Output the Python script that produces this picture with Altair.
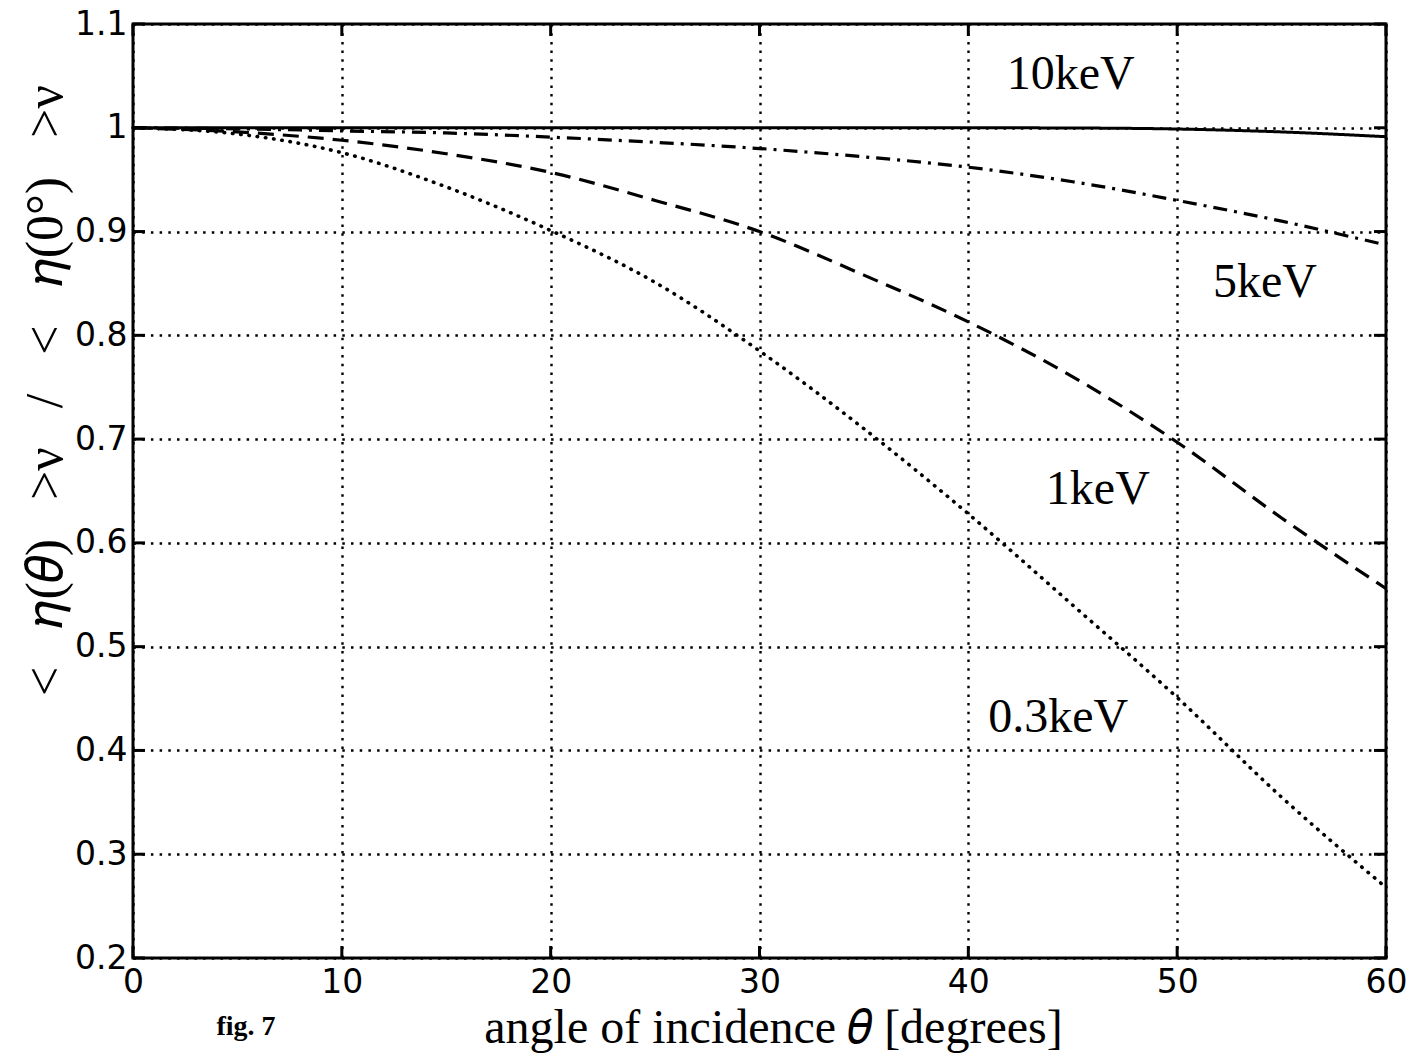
import altair as alt
import pandas as pd

theta = [0, 5, 10, 15, 20, 25, 30, 35, 40, 45, 50, 55, 60]
kev10 = [1.0, 1.0, 1.0, 1.0, 1.0, 1.0, 1.0, 1.0, 1.0, 0.9998, 0.9988, 0.996, 0.9914]
kev5 = [1.0, 0.999, 0.997, 0.995, 0.991, 0.986, 0.980, 0.972, 0.962, 0.948, 0.930, 0.910, 0.887]
kev1 = [1.0, 0.996, 0.988, 0.975, 0.957, 0.930, 0.900, 0.858, 0.813, 0.760, 0.697, 0.624, 0.556]
kev03 = [1.0, 0.994, 0.976, 0.943, 0.901, 0.851, 0.785, 0.710, 0.628, 0.540, 0.451, 0.355, 0.268]

label_text = ["10keV", "5keV", "1keV", "0.3keV"]
label_x = [44.9, 54.2, 46.2, 44.3]
label_y = [1.051, 0.850, 0.651, 0.431]

x_ticks = [0, 10, 20, 30, 40, 50, 60]
y_ticks = [0.2, 0.3, 0.4, 0.5, 0.6, 0.7, 0.8, 0.9, 1.0, 1.1]

W, H = 1253, 934

xs = alt.Scale(domain=[0, 60], nice=False)
ys = alt.Scale(domain=[0.2, 1.1], nice=False)

sp = "\u2002 "
y_title = "<" + sp + "𝜂(𝜃)" + sp + ">ν" + sp + "/" + sp + "<" + sp + "𝜂(0°)" + sp + ">ν"

x_axis = alt.Axis(
    values=x_ticks, format="d", grid=True, gridColor="black", gridDash=[2.5, 6.2],
    gridWidth=2.4, gridOpacity=1, domain=False, ticks=False, labelFont="DejaVu Sans",
    labelFontSize=33, labelColor="black", labelPadding=8, labelFlush=False,
    title="angle of incidence 𝜃 [degrees]", titleFont="Liberation Serif",
    titleFontSize=48, titleFontWeight="normal", titleColor="black",
    titlePadding=5, titleX=640,
)
y_axis = alt.Axis(
    values=y_ticks, format=".1~f", grid=True, gridColor="black", gridDash=[2.5, 6.2],
    gridWidth=2.4, gridOpacity=1, domain=False, ticks=False, labelFont="DejaVu Sans",
    labelFontSize=33, labelColor="black", labelPadding=6, labelFlush=False,
    title=y_title, titleFont="Liberation Serif", titleLimit=900,
    titleFontSize=52, titleFontWeight="normal", titleColor="black",
    titleX=-88, titleY=366, titleAngle=270, titleBaseline="middle", titleAlign="center",
)

def series_df(vals):
    return pd.DataFrame({"theta": theta, "v": vals})

base_grid = alt.Chart(pd.DataFrame({"theta": [0], "v": [1.0]})).mark_point(opacity=0).encode(
    x=alt.X("theta:Q", scale=xs, axis=x_axis),
    y=alt.Y("v:Q", scale=ys, axis=y_axis),
)

def line(vals, dash, width=3.0, cap="butt"):
    return alt.Chart(series_df(vals)).mark_line(
        color="black", strokeWidth=width, strokeDash=dash, strokeCap=cap, interpolate="monotone"
    ).encode(x=alt.X("theta:Q", scale=xs), y=alt.Y("v:Q", scale=ys))

l10 = line(kev10, [1, 0], 3.0)
l5 = line(kev5, [14, 7, 3, 7], 3.2)
l1 = line(kev1, [16, 9], 3.2)
l03 = line(kev03, [0.5, 7.8], 3.6, "round")

labels = alt.Chart(pd.DataFrame({"t": label_text, "x": label_x, "y": label_y})).mark_text(
    font="Liberation Serif", fontSize=48, color="black", align="center", baseline="middle"
).encode(x=alt.X("x:Q", scale=xs), y=alt.Y("y:Q", scale=ys), text="t:N")

yt = pd.DataFrame({"v": y_ticks})
xt = pd.DataFrame({"theta": x_ticks})
tick_l = alt.Chart(yt).mark_rule(color="black", strokeWidth=3).encode(
    y=alt.Y("v:Q", scale=ys), x=alt.value(0), x2=alt.value(12))
tick_r = alt.Chart(yt).mark_rule(color="black", strokeWidth=3).encode(
    y=alt.Y("v:Q", scale=ys), x=alt.value(W - 12), x2=alt.value(W))
tick_b = alt.Chart(xt).mark_rule(color="black", strokeWidth=3).encode(
    x=alt.X("theta:Q", scale=xs), y=alt.value(H - 12), y2=alt.value(H))
tick_t = alt.Chart(xt).mark_rule(color="black", strokeWidth=3).encode(
    x=alt.X("theta:Q", scale=xs), y=alt.value(0), y2=alt.value(12))

fig = alt.Chart(pd.DataFrame({"t": ["fig. 7"]})).mark_text(
    font="Liberation Serif", fontSize=28, fontWeight="bold", color="black", align="center",
    baseline="middle"
).encode(text="t:N", x=alt.value(113), y=alt.value(1027 - 24))

chart = alt.layer(
    base_grid, tick_l, tick_r, tick_b, tick_t, l10, l5, l1, l03, labels, fig
).properties(
    width=W, height=H,
    padding={"left": 133, "top": 24, "right": 42, "bottom": 103},
    autosize="none",
    background="white",
).configure_view(stroke="black", strokeWidth=3)

chart.save("out.html", embed_options={"renderer": "svg", "actions": False})
